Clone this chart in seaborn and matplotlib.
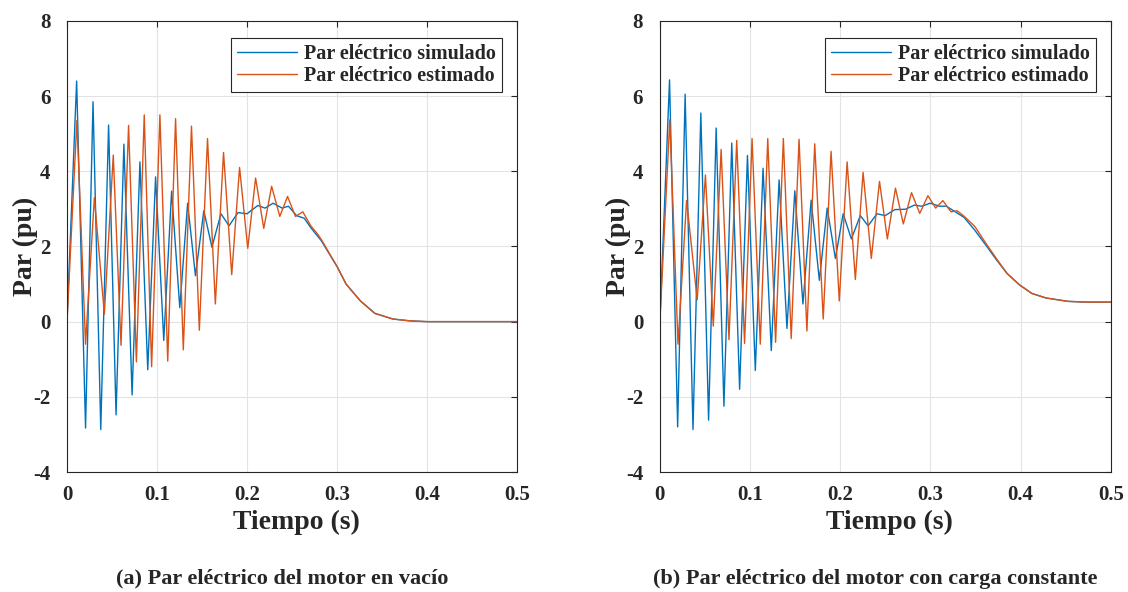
import matplotlib
matplotlib.use("Agg")
import matplotlib.pyplot as plt
import seaborn as sns

# (a) motor en vacio - simulated torque (extrema)
t_a_sim = [0, 0.0107, 0.0206, 0.0289, 0.0375, 0.0462, 0.0545, 0.0632, 0.0723, 0.081,
           0.0897, 0.0984, 0.1075, 0.1162, 0.1253, 0.134, 0.1427, 0.152, 0.161, 0.171,
           0.18, 0.19, 0.2, 0.212, 0.22, 0.229, 0.239, 0.246, 0.255, 0.2636, 0.2708,
           0.2826, 0.3004, 0.31, 0.326, 0.342, 0.362, 0.381, 0.4, 0.5]
v_a_sim = [0, 6.4, -2.83, 5.85, -2.87, 5.23, -2.48, 4.72, -1.95, 4.25,
           -1.28, 3.85, -0.5, 3.47, 0.37, 3.15, 1.22, 2.95, 1.98, 2.87,
           2.55, 2.9, 2.87, 3.09, 3.02, 3.15, 3.02, 3.07, 2.82, 2.75, 2.5,
           2.15, 1.45, 1.0, 0.55, 0.22, 0.07, 0.02, 0, 0]

# (a) estimated torque
t_a_est = [0, 0.011, 0.0206, 0.0304, 0.0415, 0.0514, 0.060, 0.0684, 0.0771, 0.0858,
           0.094, 0.1032, 0.1119, 0.1206, 0.1292, 0.1383, 0.147, 0.1561, 0.1648, 0.1739,
           0.183, 0.1917, 0.2008, 0.2095, 0.2186, 0.2273, 0.2364, 0.245, 0.2538, 0.262,
           0.2708, 0.2787, 0.2826, 0.3004, 0.31, 0.326, 0.342, 0.362, 0.381, 0.4, 0.5]
v_a_est = [0, 5.35, -0.6, 3.3, 0.2, 4.43, -0.63, 5.22, -1.07, 5.5,
           -1.2, 5.5, -1.05, 5.4, -0.75, 5.2, -0.23, 4.87, 0.47, 4.5,
           1.25, 4.1, 1.95, 3.82, 2.48, 3.6, 2.8, 3.33, 2.8, 2.92,
           2.55, 2.32, 2.18, 1.45, 1.0, 0.55, 0.22, 0.07, 0.02, 0, 0]

# (b) motor con carga constante - simulated torque
t_b_sim = [0, 0.0107, 0.0197, 0.028, 0.0367, 0.0454, 0.054, 0.0624, 0.071, 0.0797,
           0.0884, 0.0971, 0.1058, 0.1144, 0.1235, 0.1322, 0.1409, 0.1496, 0.1586, 0.1677,
           0.1768, 0.1855, 0.1946, 0.2032, 0.2123, 0.2222, 0.2309, 0.2407, 0.2498, 0.2605,
           0.2723, 0.2822, 0.29, 0.2999, 0.31, 0.3177, 0.3256, 0.3374, 0.3492, 0.361,
           0.373, 0.385, 0.3986, 0.4124, 0.428, 0.452, 0.4716, 0.5]
v_b_sim = [0, 6.43, -2.8, 6.05, -2.87, 5.55, -2.62, 5.15, -2.25, 4.75,
           -1.8, 4.42, -1.3, 4.08, -0.77, 3.77, -0.18, 3.48, 0.47, 3.23,
           1.1, 3.02, 1.68, 2.87, 2.2, 2.82, 2.55, 2.87, 2.82, 2.98,
           2.99, 3.1, 3.07, 3.15, 3.07, 3.07, 2.95, 2.77, 2.43, 2.05,
           1.65, 1.28, 0.98, 0.75, 0.63, 0.54, 0.52, 0.52]

# (b) estimated torque
t_b_est = [0, 0.011, 0.0201, 0.0296, 0.0414, 0.0505, 0.0592, 0.0679, 0.0766, 0.0852,
           0.0939, 0.1022, 0.1113, 0.1196, 0.1283, 0.1369, 0.1456, 0.1543, 0.163, 0.1717,
           0.1811, 0.1898, 0.1989, 0.2076, 0.2167, 0.2253, 0.2344, 0.2435, 0.2522, 0.2612,
           0.2699, 0.279, 0.2881, 0.2972, 0.3058, 0.3137, 0.3228, 0.3295, 0.3374, 0.3492,
           0.361, 0.373, 0.385, 0.3986, 0.4124, 0.428, 0.452, 0.4716, 0.5]
v_b_est = [0, 5.37, -0.6, 3.22, 0.58, 3.9, -0.12, 4.58, -0.48, 4.82,
           -0.58, 4.87, -0.6, 4.87, -0.55, 4.87, -0.45, 4.85, -0.25, 4.73,
           0.07, 4.53, 0.55, 4.25, 1.12, 3.97, 1.68, 3.73, 2.2, 3.55,
           2.6, 3.43, 2.88, 3.35, 3.02, 3.22, 2.92, 2.95, 2.8, 2.53,
           2.1, 1.68, 1.28, 0.98, 0.75, 0.63, 0.54, 0.52, 0.52]

captions = ["(a) Par eléctrico del motor en vacío",
            "(b) Par eléctrico del motor con carga constante"]
labels = ["Par eléctrico simulado", "Par eléctrico estimado"]

sns.set_style("white")
plt.rcParams["font.family"] = ["Liberation Serif", "DejaVu Serif"]
plt.rcParams["font.weight"] = "bold"

blue = "#0072BD"
orange = "#D95319"

fig = plt.figure(figsize=(11.28, 5.92), dpi=100)
ax_a = fig.add_axes([0.0594, 0.2027, 0.399, 0.762])
ax_b = fig.add_axes([0.585, 0.2027, 0.3998, 0.762])

panels = [
    (ax_a, t_a_sim, v_a_sim, t_a_est, v_a_est),
    (ax_b, t_b_sim, v_b_sim, t_b_est, v_b_est),
]

for i, (ax, ts, vs, te, ve) in enumerate(panels):
    sns.lineplot(x=ts, y=vs, ax=ax, color=blue, lw=1.0, sort=False,
                 estimator=None, label=labels[0])
    sns.lineplot(x=te, y=ve, ax=ax, color=orange, lw=1.0, sort=False,
                 estimator=None, label=labels[1])
    ax.set_xlim(0, 0.5)
    ax.set_ylim(-4, 8)
    ax.set_xticks([0, 0.1, 0.2, 0.3, 0.4, 0.5])
    ax.set_xticklabels(["0", "0.1", "0.2", "0.3", "0.4", "0.5"])
    ax.set_yticks([-4, -2, 0, 2, 4, 6, 8])
    ax.set_yticklabels(["-4", "-2", "0", "2", "4", "6", "8"])
    ax.grid(True, color="#e3e3e3", lw=0.8)
    ax.set_axisbelow(True)
    for sp in ax.spines.values():
        sp.set_color("#262626")
        sp.set_linewidth(0.8)
    ax.tick_params(direction="in", top=True, right=True, length=4,
                   width=0.8, color="#262626", labelsize=15)
    ax.tick_params(axis="x", pad=9)
    ax.tick_params(axis="y", pad=12)
    for lab in ax.get_xticklabels() + ax.get_yticklabels():
        lab.set_fontweight("bold")
        lab.set_color("#262626")
    ax.set_xlabel("Tiempo (s)", fontsize=20, fontweight="bold")
    ax.set_ylabel("Par (pu)", fontsize=20, fontweight="bold")
    ax.xaxis.set_label_coords(0.51, -0.084)
    ax.yaxis.set_label_coords(-0.064, 0.5)
    leg = ax.legend(loc="upper right", bbox_to_anchor=(0.967, 0.962),
                    borderaxespad=0, fancybox=False, framealpha=1,
                    edgecolor="#262626", prop={"size": 14.5, "weight": "bold"},
                    handlelength=3.0, handletextpad=0.35, borderpad=0.3,
                    labelspacing=0.1)
    leg.get_frame().set_linewidth(0.8)
    pos = ax.get_position()
    fig.text(pos.x0 + pos.width / 2 - 0.009, 0.022, captions[i], ha="center",
             va="center", fontsize=16, fontweight="bold", color="#262626",
             transform=fig.transFigure)

fig.savefig("out.png", dpi=100)
